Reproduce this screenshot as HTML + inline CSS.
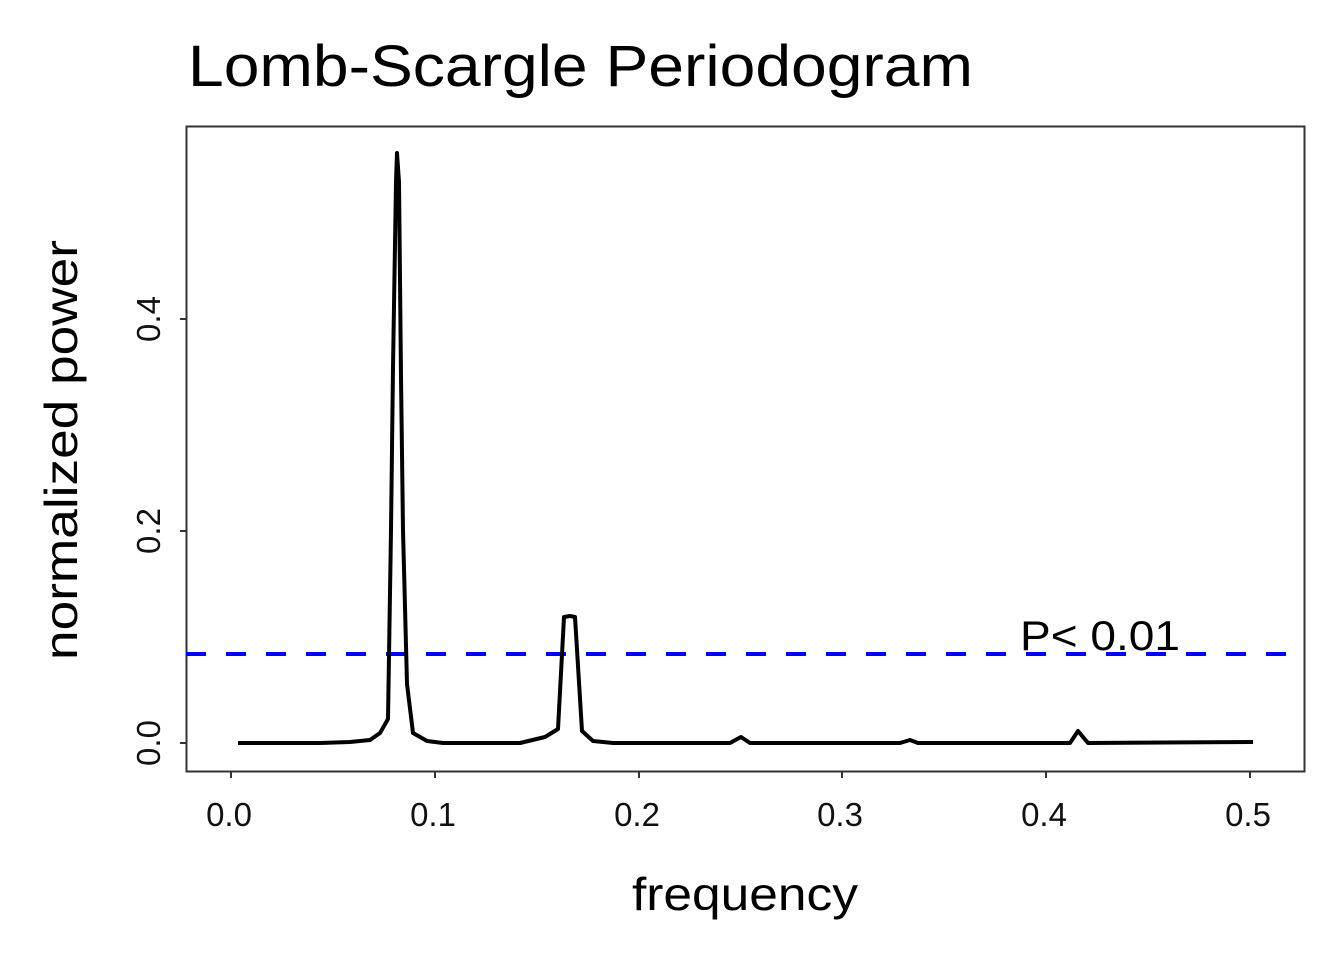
<!DOCTYPE html>
<html><head><meta charset="utf-8"><style>body{margin:0;background:#fff}svg{display:block}</style></head>
<body>
<svg width="1344" height="960" xmlns="http://www.w3.org/2000/svg" font-family="Liberation Sans, Arial, sans-serif">
<rect width="1344" height="960" fill="#fff"/>
<text x="188" y="86" font-size="58" textLength="785" lengthAdjust="spacingAndGlyphs">Lomb-Scargle Periodogram</text>
<rect x="186.5" y="126.5" width="1118" height="645" fill="none" stroke="#333" stroke-width="2"/>
<line x1="186" y1="654" x2="1305" y2="654" stroke="#0000ff" stroke-width="4" stroke-dasharray="20,20"/>
<polyline fill="none" stroke="#000" stroke-width="4" stroke-linejoin="round" points="238,743 320,743 350,742 370,740 380,733 388,719 391,530 393,368 396,182 397,153 399,182 401,377 403,530 407,684 413,733 427,741 443,743 520,743 545,737 558,729 564,617 570,616 575,617 582,731 593,741 613,743 730,743 741,737 750,743 900,743 910,740 918,743 1070,743 1078,731 1088,743 1253,742"/>
<text x="1020" y="650" font-size="42" textLength="160" lengthAdjust="spacingAndGlyphs">P&lt; 0.01</text>
<g stroke="#333" stroke-width="2">
<line x1="180" y1="743" x2="186" y2="743"/><line x1="180" y1="531" x2="186" y2="531"/><line x1="180" y1="319" x2="186" y2="319"/>
<line x1="231" y1="772" x2="231" y2="778"/><line x1="435" y1="772" x2="435" y2="778"/><line x1="639" y1="772" x2="639" y2="778"/><line x1="842" y1="772" x2="842" y2="778"/><line x1="1046" y1="772" x2="1046" y2="778"/><line x1="1250" y1="772" x2="1250" y2="778"/>
</g>
<g font-size="33" fill="#111" text-anchor="middle">
<text x="229" y="826">0.0</text><text x="433" y="826">0.1</text><text x="637" y="826">0.2</text><text x="840" y="826">0.3</text><text x="1044" y="826">0.4</text><text x="1248" y="826">0.5</text>
<text transform="translate(160,743) rotate(-90)">0.0</text>
<text transform="translate(160,531) rotate(-90)">0.2</text>
<text transform="translate(160,319) rotate(-90)">0.4</text>
</g>
<text x="745" y="910" font-size="46" text-anchor="middle" textLength="226" lengthAdjust="spacingAndGlyphs">frequency</text>
<text transform="translate(77,450) rotate(-90)" font-size="46" text-anchor="middle" textLength="420" lengthAdjust="spacingAndGlyphs">normalized power</text>
</svg>
</body></html>
